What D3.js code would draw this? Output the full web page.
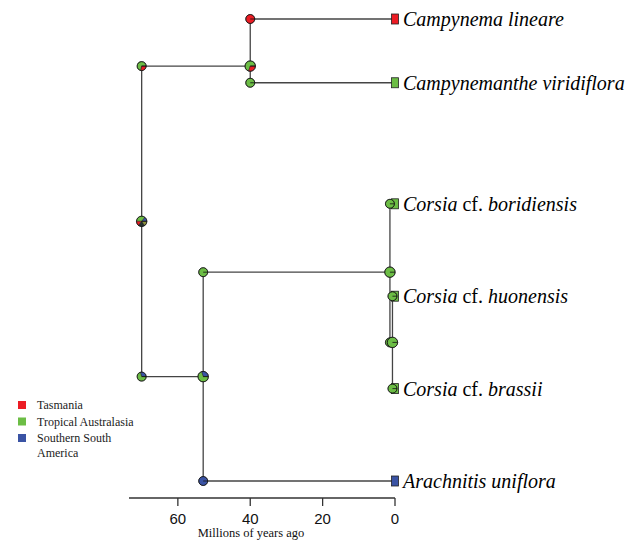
<!DOCTYPE html>
<html>
<head>
<meta charset="utf-8">
<script src="https://cdn.jsdelivr.net/npm/d3@7"></script>
<style>
  body { margin: 0; background: #fff; }
  svg { display: block; }
</style>
</head>
<body>
<svg id="tree" width="628" height="541"></svg>
<script>
// regions (state order used for pies, drawn counter-clockwise from 3 o'clock)
const stateNames = ["Southern South America", "Tropical Australasia", "Tasmania", "Trop. Aus. + S. S. America", "Tasmania + Trop. Aus."];
const stateColors = ["#3a53a4", "#6cbd45", "#ec1c24", "#24302a", "#8b8f3a"];
const legendLabels = ["Tasmania", "Tropical Australasia", "Southern South\nAmerica"];
const legendColors = ["#ec1c24", "#6cbd45", "#3a53a4"];

// tree
const nodeIds     = ["root", "campy", "campyLin", "campyVir", "split", "corsia", "corsiaBor", "corsiaSub", "corsiaHuo", "corsiaBra", "arach"];
const nodeParents = [null, "root", "campy", "campy", "root", "split", "corsia", "corsia", "corsiaSub", "corsiaSub", "split"];
const nodeAges    = [70, 40, 0, 0, 53, 1.4, 0, 0.7, 0, 0, 0];
const nodeRows    = [2.19, 0.51, 0, 0.69, 3.87, 2.74, 2, 3.5, 3, 4, 5];
const tipLabels = {
  campyLin: [["Campynema lineare", true]],
  campyVir: [["Campynemanthe viridiflora", true]],
  corsiaBor: [["Corsia", true], [" cf. ", false], ["boridiensis", true]],
  corsiaHuo: [["Corsia", true], [" cf. ", false], ["huonensis", true]],
  corsiaBra: [["Corsia", true], [" cf. ", false], ["brassii", true]],
  arach: [["Arachnitis uniflora", true]]
};
const tipStates = { campyLin: 2, campyVir: 1, corsiaBor: 1, corsiaHuo: 1, corsiaBra: 1, arach: 0 };

// ancestral state probabilities: at the node, and at the start of the branch leading to it
const nodeProbs = {
  root:      [0.15, 0.35, 0.15, 0.2, 0.15],
  campy:     [0, 0.7, 0.3, 0, 0],
  split:     [0.3, 0.7, 0, 0, 0],
  corsia:    [0, 1, 0, 0, 0],
  corsiaSub: [0, 1, 0, 0, 0]
};
const startProbs = {
  campy:     [0, 0.72, 0.28, 0, 0],
  campyLin:  [0, 0, 1, 0, 0],
  campyVir:  [0, 1, 0, 0, 0],
  split:     [0.3, 0.7, 0, 0, 0],
  corsia:    [0, 1, 0, 0, 0],
  corsiaBor: [0, 1, 0, 0, 0],
  corsiaSub: [0, 1, 0, 0, 0],
  corsiaHuo: [0, 1, 0, 0, 0],
  corsiaBra: [0, 1, 0, 0, 0],
  arach:     [1, 0, 0, 0, 0]
};
const axisTicks = [60, 40, 20, 0];

const svg = d3.select("#tree");

const x = d3.scaleLinear().domain([73.5, 0]).range([129, 395]);
const y = d3.scaleLinear().domain([0, 5]).range([19, 481]);

const table = nodeIds.map((id, i) => ({ id: id, parent: nodeParents[i], age: nodeAges[i], row: nodeRows[i] }));
const root = d3.stratify().id(d => d.id).parentId(d => d.parent)(table);
root.each(d => { d.px = x(d.data.age); d.py = y(d.data.row); });

// branches
const branches = svg.append("g").attr("fill", "none").attr("stroke", "#444").attr("stroke-width", 1.3);
root.descendants().forEach(d => {
  if (d.children) {
    const ys = d.children.map(c => c.py);
    branches.append("line")
      .attr("x1", d.px).attr("x2", d.px)
      .attr("y1", d3.min(ys)).attr("y2", d3.max(ys));
  }
  if (d.parent) {
    branches.append("line")
      .attr("x1", d.parent.px).attr("x2", d.px)
      .attr("y1", d.py).attr("y2", d.py);
  }
});

// tip squares
svg.append("g").selectAll("rect")
  .data(root.leaves())
  .join("rect")
  .attr("x", d => d.px - 3.5).attr("y", d => d.py - 5)
  .attr("width", 7).attr("height", 10)
  .attr("fill", d => stateColors[tipStates[d.id]])
  .attr("stroke", "#222").attr("stroke-width", 0.8);

// pies
const pie = d3.pie().sort(null).startAngle(Math.PI / 2).endAngle(Math.PI / 2 - 2 * Math.PI);
function drawPie(cx, cy, probs, r) {
  const g = svg.append("g").attr("transform", `translate(${cx},${cy})`);
  const arc = d3.arc().innerRadius(0).outerRadius(r);
  g.selectAll("path")
    .data(pie(probs).filter(s => s.value > 0))
    .join("path")
    .attr("d", arc)
    .attr("fill", s => stateColors[s.index])
    .attr("stroke", "#222").attr("stroke-width", 0.5);
  g.append("line").attr("x1", 0).attr("y1", 0).attr("x2", r).attr("y2", 0)
    .attr("stroke", "#111").attr("stroke-width", 0.8);
  g.append("circle").attr("r", r).attr("fill", "none")
    .attr("stroke", "#111").attr("stroke-width", 0.8);
}
root.descendants().forEach(d => {
  if (d.parent && startProbs[d.id]) drawPie(d.parent.px, d.py, startProbs[d.id], 4.5);
});
root.descendants().forEach(d => {
  if (nodeProbs[d.id]) drawPie(d.px, d.py, nodeProbs[d.id], 5.2);
});

// tip labels
const labels = svg.append("g")
  .attr("font-family", "'Liberation Serif', 'Times New Roman', serif")
  .attr("font-size", 20);
root.leaves().forEach(d => {
  const t = labels.append("text")
    .attr("x", d.px + 8).attr("y", d.py).attr("dy", "0.35em");
  tipLabels[d.id].forEach(p => {
    t.append("tspan").attr("font-style", p[1] ? "italic" : "normal").text(p[0]);
  });
});

// time axis
const axisY = 498;
const ax = svg.append("g");
ax.append("line").attr("x1", x.range()[0]).attr("x2", x.range()[1])
  .attr("y1", axisY).attr("y2", axisY)
  .attr("stroke", "#333").attr("stroke-width", 1.3);
ax.selectAll(".tk").data(axisTicks).join("line")
  .attr("x1", d => x(d)).attr("x2", d => x(d))
  .attr("y1", axisY).attr("y2", axisY + 8)
  .attr("stroke", "#333").attr("stroke-width", 1.3);
ax.selectAll(".tl").data(axisTicks).join("text")
  .attr("x", d => x(d)).attr("y", axisY + 26)
  .attr("text-anchor", "middle")
  .attr("font-family", "'Liberation Sans', Arial, sans-serif")
  .attr("font-size", 15).attr("fill", "#111")
  .text(d => d);
ax.append("text")
  .attr("x", 251).attr("y", axisY + 39)
  .attr("text-anchor", "middle")
  .attr("font-family", "'Liberation Serif', 'Times New Roman', serif")
  .attr("font-size", 12.5).attr("fill", "#111")
  .text("Millions of years ago");

// legend
const legend = svg.append("g")
  .attr("font-family", "'Liberation Serif', 'Times New Roman', serif")
  .attr("font-size", 12).attr("fill", "#222");
legendLabels.forEach((lab, i) => {
  const ly = 405 + i * 16.5;
  legend.append("rect").attr("x", 18).attr("y", ly - 4).attr("width", 8).attr("height", 8)
    .attr("fill", legendColors[i]);
  const t = legend.append("text").attr("x", 37).attr("y", ly);
  lab.split("\n").forEach((line, j) => {
    t.append("tspan").attr("x", 37).attr("dy", j === 0 ? "0.35em" : "1.25em").text(line);
  });
});
</script>
</body>
</html>
